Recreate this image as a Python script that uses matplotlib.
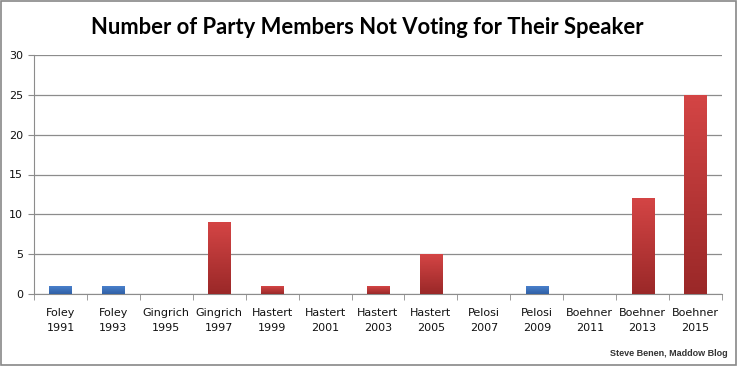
import matplotlib
matplotlib.use("Agg")
import matplotlib.pyplot as plt
import numpy as np
from matplotlib.colors import LinearSegmentedColormap

speakers = ["Foley", "Foley", "Gingrich", "Gingrich", "Hastert", "Hastert", "Hastert",
            "Hastert", "Pelosi", "Pelosi", "Boehner", "Boehner", "Boehner"]
years = ["1991", "1993", "1995", "1997", "1999", "2001", "2003",
         "2005", "2007", "2009", "2011", "2013", "2015"]
values = [1, 1, 0, 9, 1, 0, 1, 5, 0, 1, 0, 12, 25]
party = ["D", "D", "R", "R", "R", "R", "R", "R", "D", "D", "R", "R", "R"]

labels = [f"{s}\n{y}" for s, y in zip(speakers, years)]
x = np.arange(len(values))

fig = plt.figure(figsize=(7.37, 3.66), dpi=100)
ax = fig.add_axes([34/737, 1 - 294/366, (722-34)/737, (294-55)/366])

red_cmap = LinearSegmentedColormap.from_list("r", ["#9a2828", "#d44545"])
blue_cmap = LinearSegmentedColormap.from_list("b", ["#2f60a6", "#4a80cc"])

bars = ax.bar(x, values, width=0.42, color=["#3a70bc" if p == "D" else "#c03838" for p in party],
              zorder=3, linewidth=0)
grad = np.linspace(0, 1, 256).reshape(-1, 1)
for b, p in zip(bars, party):
    h = b.get_height()
    if h <= 0:
        continue
    x0 = b.get_x()
    w = b.get_width()
    im = ax.imshow(grad, cmap=blue_cmap if p == "D" else red_cmap, aspect="auto",
                   extent=[x0, x0 + w, 0, h], origin="lower", zorder=4)
    im.set_clip_path(b)

ax.set_xlim(-0.5, len(values) - 0.5)
ax.set_ylim(0, 30)
ax.set_yticks(np.arange(0, 31, 5))
ax.yaxis.grid(True, color="#8c8c8c", linewidth=0.9, zorder=0)
ax.set_axisbelow(True)

ax.set_xticks(x)
ax.set_xticklabels(labels, fontsize=8, color="#111111", linespacing=1.7)
ax.set_xticks(np.arange(-0.5, len(values), 1), minor=True)
ax.tick_params(axis="x", which="major", length=0, pad=10)
ax.tick_params(axis="x", which="minor", length=4, color="#8c8c8c", direction="out")
ax.tick_params(axis="y", length=4, color="#8c8c8c", labelsize=8, labelcolor="#111111", pad=4)

for s in ["top", "right"]:
    ax.spines[s].set_visible(False)
ax.spines["left"].set_color("#8c8c8c")
ax.spines["bottom"].set_color("#8c8c8c")

fig.text(367/737, 1 - 27/366, "Number of Party Members Not Voting for Their Speaker",
         ha="center", va="center", fontsize=15.8, fontweight="bold", family="Lato")
fig.text(728/737, 1 - 353/366, "Steve Benen, Maddow Blog", ha="right", va="center",
         fontsize=6.5, fontweight="bold", family="Liberation Sans", color="#333333")

fig.patches.append(plt.Rectangle((0.001, 0.002), 0.997, 0.995, transform=fig.transFigure,
                                 fill=False, edgecolor="#888888", linewidth=1.2))

fig.savefig("out.png", dpi=100)
